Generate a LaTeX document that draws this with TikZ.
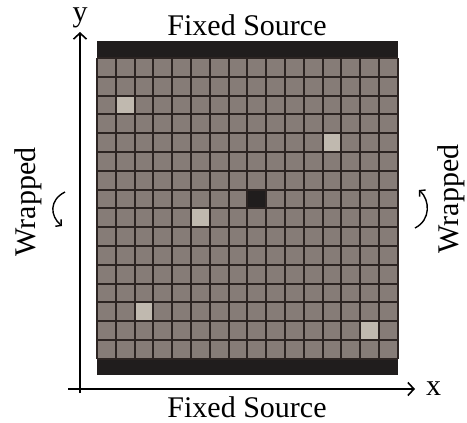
\documentclass[tikz,border=0pt]{standalone}
\usepackage{fontspec}
\setmainfont{Liberation Serif}
\usetikzlibrary{arrows.meta}
\definecolor{cellgray}{RGB}{134,124,119}
\definecolor{celllight}{RGB}{192,185,175}
\definecolor{celldark}{RGB}{32,29,29}
\definecolor{gridline}{RGB}{44,36,34}

\begin{document}
\begin{tikzpicture}[
  x=1pt, y=-1pt,
  >={Straight Barb[length=6pt,width=13pt,line width=1.6pt]},
  axis/.style={line width=1.6pt},
  txt/.style={font=\fontsize{30}{36}\selectfont, inner sep=0pt},
  wrap/.style={line width=1.4pt, -{Straight Barb[length=4pt,width=9pt]}},
  lattice/.style={gridline, line width=2pt}
  ]
  \useasboundingbox (0,0) rectangle (467,423);
  % Lattice parameters
  \def\cs{18.8}
  \def\gx{97}
  \def\gy{58}
  % Fixed sources
  \fill[celldark] (\gx,41) rectangle (\gx+16*\cs,\gy);
  \fill[celldark] (\gx,\gy+16*\cs) rectangle (\gx+16*\cs,375);
  % Cells
  \fill[cellgray] (\gx,\gy) rectangle (\gx+16*\cs,\gy+16*\cs);
  \foreach \c/\r in {1/2,12/4,5/8,2/13,14/14}
    \fill[celllight] (\gx+\c*\cs,\gy+\r*\cs) rectangle ++(\cs,\cs);
  \fill[celldark] (\gx+8*\cs,\gy+7*\cs) rectangle ++(\cs,\cs);
  \foreach \i in {0,...,16} {
    \draw[lattice] (\gx+\i*\cs,\gy) -- (\gx+\i*\cs,\gy+16*\cs);
    \draw[lattice] (\gx,\gy+\i*\cs) -- (\gx+16*\cs,\gy+\i*\cs);
  }
  % Axes
  \coordinate (xstart) at (68,389);
  \coordinate (xtip) at (415,389);
  \coordinate (ystart) at (80,393);
  \coordinate (ytip) at (80,32);
  \draw[axis,->] (xstart) -- (xtip);
  \draw[axis,->] (ystart) -- (ytip);
  \node[txt, anchor=base west] (xlab) at (426,395) {x};
  \node[txt, anchor=base] (ylab) at (80,22) {y};
  % Labels
  \node[txt, anchor=base] (top) at (247,35) {Fixed Source};
  \node[txt, anchor=base] (bottom) at (247,417) {Fixed Source};
  \node[txt, rotate=90] (wrapL) at (28,202) {Wrapped};
  \node[txt, rotate=90] (wrapR) at (451,199) {Wrapped};
  % Wrap arrows
  \coordinate (wl1) at (65,192);
  \coordinate (wl2) at (62,226);
  \coordinate (wr1) at (415,228);
  \coordinate (wr2) at (419,190);
  \draw[wrap] (wl1) .. controls (49,200) and (50,216) .. (wl2);
  \draw[wrap] (wr1) .. controls (431,220) and (430,200) .. (wr2);
\end{tikzpicture}
\end{document}
